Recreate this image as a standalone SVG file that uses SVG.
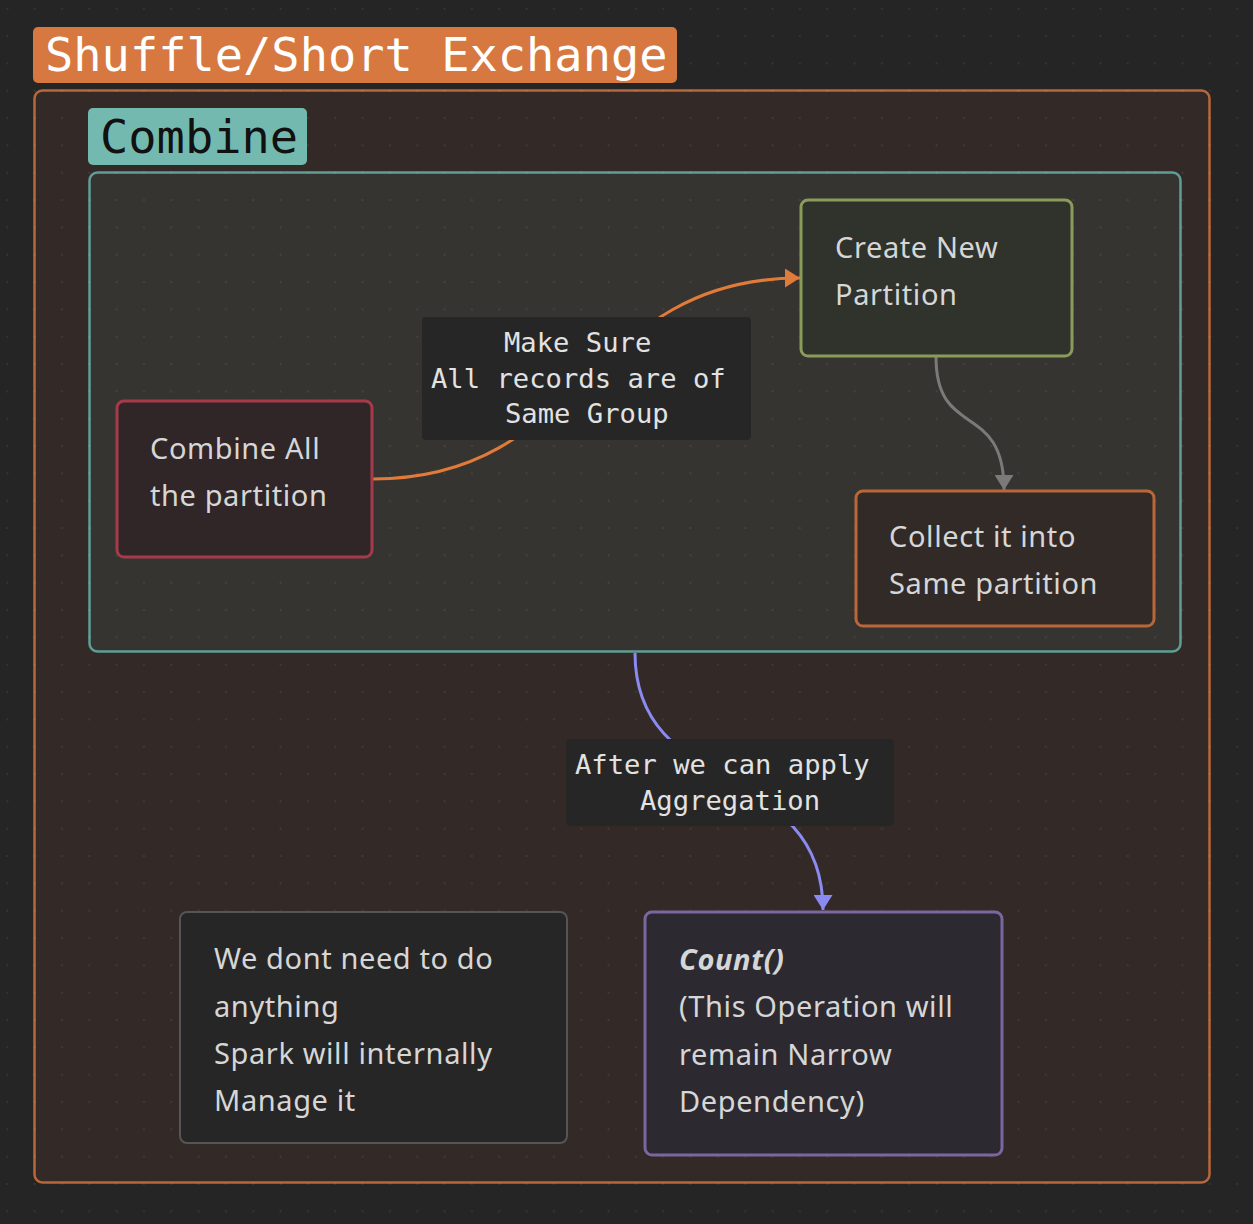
<svg xmlns="http://www.w3.org/2000/svg" width="1253" height="1224" viewBox="0 0 1253 1224">
<defs>
<pattern id="dots" patternUnits="userSpaceOnUse" x="0" y="0" width="27.33" height="27.33">
<circle cx="7.3" cy="8.7" r="1" fill="#ffffff" fill-opacity="0.09"/>
</pattern>
<marker id="arOrange" viewBox="0 0 15 19" refX="15" refY="9.5" markerWidth="15" markerHeight="19" markerUnits="userSpaceOnUse" orient="auto"><path d="M0,0 L15,9.5 L0,19 z" fill="#e07b39"/></marker>
<marker id="arGray" viewBox="0 0 15 19" refX="15" refY="9.5" markerWidth="15" markerHeight="19" markerUnits="userSpaceOnUse" orient="auto"><path d="M0,0 L15,9.5 L0,19 z" fill="#7a7a7a"/></marker>
<marker id="arPurple" viewBox="0 0 15 19" refX="15" refY="9.5" markerWidth="15" markerHeight="19" markerUnits="userSpaceOnUse" orient="auto"><path d="M0,0 L15,9.5 L0,19 z" fill="#8a8af0"/></marker>
<style>
.mono{font-family:"DejaVu Sans Mono","Liberation Mono",monospace;}
.sans{font-family:"Noto Sans","Open Sans","Liberation Sans",sans-serif;font-size:29px;letter-spacing:0.6px;fill:#d6d6d6;}
.lbl{font-family:"DejaVu Sans Mono","Liberation Mono",monospace;font-size:27.2px;fill:#e2e2e2;}
.edge{fill:none;stroke-width:3;}
</style>
</defs>
<rect x="0" y="0" width="1253" height="1224" fill="#252525"/>
<g id="frame-shuffle">
<rect x="34.5" y="90.5" width="1175" height="1092" rx="8" fill="#332a27" stroke="#b8673a" stroke-width="2.5"/>
</g>
<g id="frame-combine">
<rect x="89.5" y="172.5" width="1091" height="479" rx="8" fill="#363430" stroke="#5f9e96" stroke-width="2.5"/>
</g>
<rect x="0" y="0" width="1253" height="1224" fill="url(#dots)"/>
<g id="title-shuffle">
<rect x="33" y="27" width="644" height="56" rx="5" fill="#d67840"/>
<text class="mono" x="45" y="71" font-size="47" fill="#ffffff">Shuffle/Short Exchange</text>
</g>
<g id="title-combine">
<rect x="88" y="108" width="219" height="57" rx="5" fill="#74b9b0"/>
<text class="mono" x="100" y="153" font-size="47" fill="#111111">Combine</text>
</g>
<g id="connectors">
<path class="edge" d="M373,479 C586,479 586,278 800,278" stroke="#e07b39" marker-end="url(#arOrange)"/>
<path class="edge" d="M936,357 C936,440 1004,400 1004,490" stroke="#7a7a7a" marker-end="url(#arGray)"/>
<path class="edge" d="M635,653 C635,800 823,760 823,910" stroke="#8a8af0" marker-end="url(#arPurple)"/>
<g id="label-make-sure">
<rect x="422" y="317" width="329" height="123" rx="4" fill="#262626"/>
<text class="lbl" x="504" y="352">Make Sure</text>
<text class="lbl" x="431" y="388">All records are of</text>
<text class="lbl" x="505" y="423">Same Group</text>
</g>
<g id="label-after">
<rect x="566" y="739" width="328" height="87" rx="4" fill="#262626"/>
<text class="lbl" x="575" y="774">After we can apply</text>
<text class="lbl" x="640" y="810">Aggregation</text>
</g>
</g>
<g id="node-combine-all">
<rect x="117" y="401" width="255" height="156" rx="7" fill="#302628" stroke="#a63a4a" stroke-width="3"/>
<text class="sans" x="150" y="459">Combine All</text>
<text class="sans" x="150" y="506">the partition</text>
</g>
<g id="node-create-new">
<rect x="801" y="200" width="271" height="156" rx="7" fill="#30322c" stroke="#8a9b5a" stroke-width="3"/>
<text class="sans" x="835" y="258">Create New</text>
<text class="sans" x="835" y="305">Partition</text>
</g>
<g id="node-collect">
<rect x="856" y="491" width="298" height="135" rx="7" fill="#322a27" stroke="#b8673a" stroke-width="3"/>
<text class="sans" x="889" y="547">Collect it into</text>
<text class="sans" x="889" y="594">Same partition</text>
</g>
<g id="node-no-need">
<rect x="180" y="912" width="387" height="231" rx="7" fill="#262626" stroke="#555555" stroke-width="2"/>
<text class="sans" x="214" y="969">We dont need to do</text>
<text class="sans" x="214" y="1017">anything</text>
<text class="sans" x="214" y="1064">Spark will internally</text>
<text class="sans" x="214" y="1111">Manage it</text>
</g>
<g id="node-count">
<rect x="645" y="912" width="357" height="243" rx="7" fill="#2c2a30" stroke="#7b66a0" stroke-width="3"/>
<text class="sans" x="679" y="970" font-weight="bold" font-style="italic">Count()</text>
<text class="sans" x="679" y="1017">(This Operation will</text>
<text class="sans" x="679" y="1065">remain Narrow</text>
<text class="sans" x="679" y="1112">Dependency)</text>
</g>
</svg>
